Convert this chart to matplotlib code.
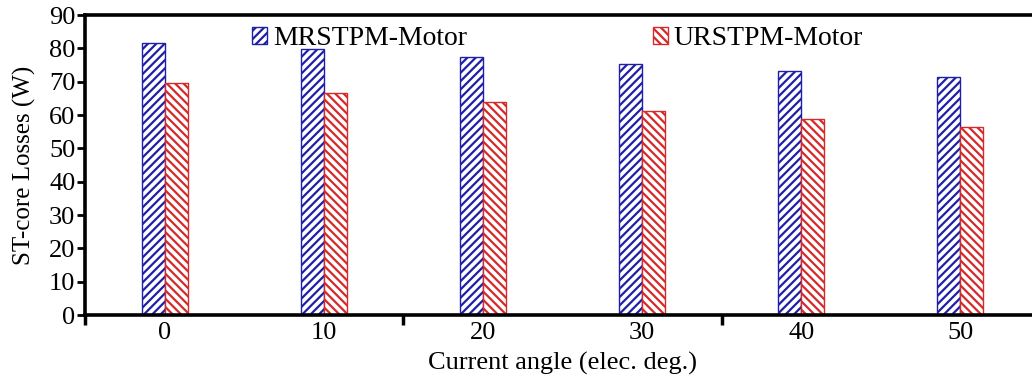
import matplotlib
matplotlib.use('Agg')
import matplotlib.pyplot as plt
import matplotlib.patches as mpatches
import numpy as np

#----------------------------------------------------------------------|
# Data

angles = ['0', '10', '20', '30', '40', '50']
mrstpm = [81.5, 79.7, 77.3, 75.3, 73.1, 71.3]
urstpm = [69.5, 66.5, 63.9, 61.2, 58.7, 56.3]
names = ['MRSTPM-Motor', 'URSTPM-Motor']

#----------------------------------------------------------------------|
# Style

plt.rcParams['font.family'] = ['Liberation Serif', 'DejaVu Serif']
plt.rcParams['hatch.linewidth'] = 1.6
fs = 19
c_blue = '#1f1fa8'
c_red = '#d42a2a'

#----------------------------------------------------------------------|
# Plot

fig = plt.figure(figsize=(10.32, 3.76), dpi=100)
ax = fig.add_axes([85/1032, 61/376, 955/1032, 300/376])

x = np.arange(len(angles))
w = 0.145
ax.bar(x - w/2, mrstpm, w, facecolor='white', edgecolor=c_blue, hatch='////', lw=1.0)
ax.bar(x + w/2, urstpm, w, facecolor='white', edgecolor=c_red, hatch='\\\\\\\\', lw=1.0)

ax.set_xlim(-0.5, 5.5)
ax.set_ylim(0, 90)
ax.set_yticks(np.arange(0, 91, 10))

# major ticks at group boundaries, labels on minor ticks
ax.set_xticks([-0.5, 1.5, 3.5, 5.5])
ax.set_xticklabels([])
ax.set_xticks(x, minor=True)
ax.set_xticklabels(angles, minor=True)
ax.tick_params(axis='x', which='major', direction='out', length=7, width=2.5)
ax.tick_params(axis='x', which='minor', length=0, pad=5, labelsize=fs)
ax.tick_params(axis='y', direction='out', length=6, width=2, labelsize=fs, pad=1)

for s in ax.spines.values():
    s.set_linewidth(2.6)

ax.set_xlabel('Current angle (elec. deg.)', fontsize=fs, labelpad=6)
ax.set_ylabel('ST-core Losses (W)', fontsize=18, labelpad=9)

handles = [mpatches.Patch(facecolor='white', edgecolor=c_blue, hatch='////', lw=1.0),
           mpatches.Patch(facecolor='white', edgecolor=c_red, hatch='\\\\\\\\', lw=1.0)]
ax.legend(handles, names, ncol=2, loc='upper left', bbox_to_anchor=(0.175, 0.962),
          frameon=False, fontsize=20, handlelength=0.55, handleheight=0.55,
          handletextpad=0.2, columnspacing=6.7, borderaxespad=0., borderpad=0.)

fig.savefig('out.png', dpi=100)
